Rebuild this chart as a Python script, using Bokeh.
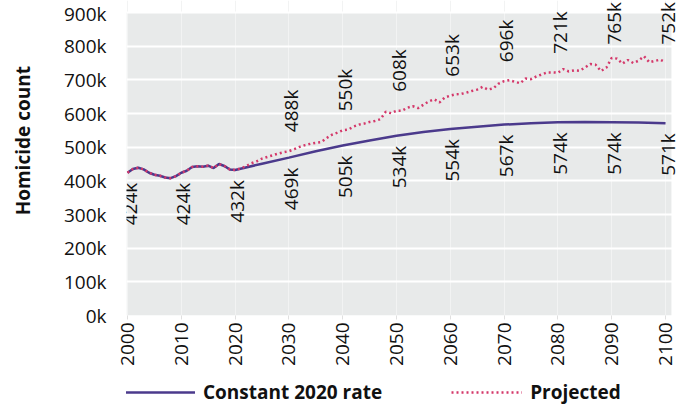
import math
from bokeh.plotting import figure
from bokeh.layouts import column
from bokeh.models import (FixedTicker, PrintfTickFormatter, Legend, LegendItem, Range1d)
from bokeh.core.properties import value
from bokeh.embed import file_html
from bokeh.resources import INLINE

# ---------------- data (thousands of homicides) ----------------
hist_years = list(range(2000, 2021))
hist_vals = [424, 435, 439, 434, 424, 418, 415, 410, 408, 414, 424,
             430, 441, 443, 442, 445, 438, 450, 444, 434, 432]

const_years = [2025, 2030, 2035, 2040, 2045, 2050, 2055, 2060,
               2065, 2070, 2075, 2080, 2085, 2090, 2095, 2100]
const_vals = [451, 469, 488, 505, 520, 534, 545, 554,
              561, 567, 571, 574, 575, 574, 573, 571]

proj_years = list(range(2021, 2101))
proj_vals = [437, 443, 452, 458, 466, 471, 476, 481, 485, 488,
             494, 501, 506, 510, 513, 515, 527, 537, 543, 550,
             552, 561, 567, 570, 575, 578, 583, 605, 601, 608,
             608, 617, 622, 616, 626, 636, 642, 633, 648, 653,
             657, 658, 662, 667, 671, 679, 671, 675, 689, 696,
             699, 694, 690, 704, 702, 710, 716, 722, 722, 721,
             732, 725, 728, 727, 736, 747, 745, 726, 736, 765,
             763, 748, 759, 750, 757, 770, 752, 756, 760, 752]

x_ticks = list(range(2000, 2101, 10))
y_ticks = list(range(0, 901, 100))

series_names = ["Constant 2020 rate", "Projected"]
y_title = "Homicide count"

# ---------------- layout constants ----------------
W = 694
H_MAIN, H_LEG = 370, 37
B_LEFT, B_BOTTOM = 126, 55
PLOT_TOP_PX = 12                      # gray plot area starts 12px below canvas top
FRAME_H = H_MAIN - B_BOTTOM           # frame runs from canvas top
FRAME_W = W - B_LEFT                  # frame runs to canvas right edge
X_START, X_BG_END = 1999.81, 2101.1   # gray area spans X_START .. X_BG_END
PX_PER_YEAR = 5.38
X_END = X_START + FRAME_W / PX_PER_YEAR
Y_MAX = y_ticks[-1]
PX_PER_UNIT = (FRAME_H - PLOT_TOP_PX) / Y_MAX
Y_TOP = Y_MAX + PLOT_TOP_PX / PX_PER_UNIT
LABEL_LEN = 43                        # pixel length of a rotated "000k" label
UP_GAP = 19                           # gap between projected line and its label
LOW_GAP = 10                          # gap between constant line and its label

# ---------------- derived series ----------------
c_x = hist_years + const_years
c_y = hist_vals + const_vals
p_x = hist_years + proj_years
p_y = hist_vals + proj_vals
c_lookup = dict(zip(c_x, c_y))
p_lookup = dict(zip(p_x, p_y))

low_x = x_ticks
low_y = [c_lookup[y] for y in low_x]
low_t = [f"{v}k" for v in low_y]

up_x = [y for y in x_ticks if y >= 2030]
up_y = [p_lookup[y] for y in up_x]
up_t = [f"{v}k" for v in up_y]
# keep upper labels inside the canvas (reference nearly touches the top edge)
up_off = [-min(UP_GAP, (Y_TOP - v) * PX_PER_UNIT - LABEL_LEN - 1) for v in up_y]

PURPLE = "#4B3A8C"
PINK = "#D4386A"
BG = "#E8EAEA"
FONT = "Open Sans"
TXT = "#111111"

fig = figure(width=W, height=H_MAIN,
             x_range=Range1d(X_START, X_END), y_range=Range1d(0, Y_TOP),
             output_backend="svg", toolbar_location=None,
             min_border_left=B_LEFT, min_border_right=0,
             min_border_top=0, min_border_bottom=B_BOTTOM)
fig.background_fill_color = "white"
fig.border_fill_color = "white"
fig.outline_line_color = None

# gray plot area (0 .. 900k)
fig.quad(left=[X_START], right=[X_BG_END],
         bottom=[y_ticks[0]], top=[Y_MAX], fill_color=BG, line_color=None,
         level="image")

# grids
fig.xgrid.ticker = FixedTicker(ticks=x_ticks)
fig.xgrid.grid_line_color = "#F2F3F3"
fig.xgrid.grid_line_width = 1
fig.ygrid.ticker = FixedTicker(ticks=y_ticks)
fig.ygrid.grid_line_color = "white"
fig.ygrid.grid_line_width = 2
fig.ygrid.bounds = (X_START, X_BG_END)

# axes
fig.xaxis.ticker = FixedTicker(ticks=x_ticks)
fig.xaxis.major_label_orientation = math.pi / 2
fig.xaxis.axis_line_color = None
fig.xaxis.major_tick_line_color = "#E0E0E0"
fig.xaxis.major_tick_in = 0
fig.xaxis.major_tick_out = 4
fig.xaxis.minor_tick_line_color = None
fig.xaxis.major_label_standoff = 3
fig.xaxis.major_label_text_font = FONT
fig.xaxis.major_label_text_font_size = "19px"
fig.xaxis.major_label_text_color = TXT

fig.yaxis.ticker = FixedTicker(ticks=y_ticks)
fig.yaxis.formatter = PrintfTickFormatter(format="%dk")
fig.yaxis.axis_line_color = None
fig.yaxis.major_tick_line_color = None
fig.yaxis.minor_tick_line_color = None
fig.yaxis.major_tick_in = 0
fig.yaxis.major_tick_out = 0
fig.yaxis.major_label_standoff = 20
fig.yaxis.major_label_text_font = FONT
fig.yaxis.major_label_text_font_size = "19px"
fig.yaxis.major_label_text_color = TXT
# leading no-break spaces nudge the centred title upwards, as in the reference
fig.yaxis.axis_label = "\u00a0" * 7 + y_title
fig.yaxis.axis_label_text_font = FONT
fig.yaxis.axis_label_text_font_style = "bold"
fig.yaxis.axis_label_text_font_size = "19px"
fig.yaxis.axis_label_text_color = TXT
fig.yaxis.axis_label_standoff = 25

# lines
fig.line(c_x, c_y, line_color=PURPLE, line_width=2.5)
fig.line(p_x, p_y, line_color=PINK, line_width=2.5, line_dash="2 3")

# value labels
fig.text(x=low_x, y=low_y, text=low_t, angle=math.pi / 2,
         text_align="right", text_baseline="middle", x_offset=2, y_offset=LOW_GAP,
         text_font=value(FONT), text_font_size="19px", text_color=TXT)
fig.text(x=up_x, y=up_y, text=up_t, angle=math.pi / 2,
         text_align="left", text_baseline="middle", x_offset=2, y_offset=up_off,
         text_font=value(FONT), text_font_size="19px", text_color=TXT)

# ---------------- legend strip ----------------
leg = figure(width=W, height=H_LEG, x_range=Range1d(0, 1), y_range=Range1d(0, 1),
             x_axis_type=None, y_axis_type=None, output_backend="svg",
             toolbar_location=None, min_border=0)
leg.outline_line_color = None
leg.background_fill_color = "white"
leg.border_fill_color = "white"
# same series, drawn outside this strip's visible range: only their legend glyphs show
lr_c = leg.line(c_x, c_y, line_color=PURPLE, line_width=2.5)
lr_p = leg.line(p_x, p_y, line_color=PINK, line_width=2.5, line_dash="2 3")
legend = Legend(items=[LegendItem(label=series_names[0], renderers=[lr_c]),
                       LegendItem(label=series_names[1], renderers=[lr_p])],
                location=(-2, 2), orientation="horizontal",
                glyph_width=71, glyph_height=20, label_height=20,
                label_standoff=8, spacing=69, padding=0, margin=0,
                border_line_color=None, background_fill_alpha=0,
                label_text_font=FONT, label_text_font_style="bold",
                label_text_font_size="19px", label_text_color=TXT)
leg.add_layout(legend, "center")

p = column(fig, leg, spacing=0)

open("out.html", "w").write(file_html(p, INLINE))
